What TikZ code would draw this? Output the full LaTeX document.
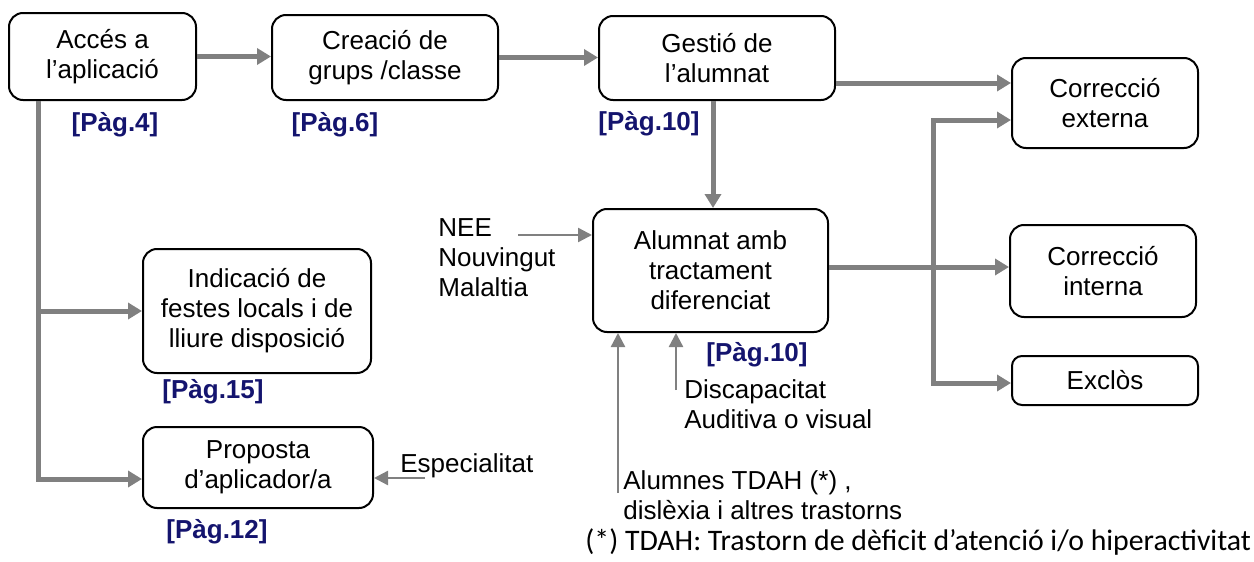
\documentclass[tikz,border=0pt]{standalone}
\usepackage{fontspec}
\setmainfont{Liberation Sans}
\newfontfamily\notefont{Carlito}
\usetikzlibrary{arrows.meta}

\definecolor{flowgray}{RGB}{128,128,128}
\definecolor{pagblue}{RGB}{20,20,110}

\begin{document}
\begin{tikzpicture}[x=0.5pt, y=-0.5pt,
    font=\fontsize{13}{15}\selectfont,
    box/.style={draw, line width=1pt, rounded corners=7pt, fill=white, align=center, inner sep=0pt},
    pag/.style={text=pagblue, font=\fontsize{13}{15}\selectfont\bfseries, inner sep=0pt},
    note/.style={align=left, inner sep=0pt},
    flow/.style={draw=flowgray, line width=2.5pt, -{Triangle[length=7pt, width=8pt]}, flowgray},
    thinflow/.style={draw=flowgray, line width=1.2pt, -{Triangle[length=7pt, width=7pt]}, flowgray}]
  \useasboundingbox (0,0) rectangle (1254,562);
  % Boxes
  \node[box, minimum width=93.5pt, minimum height=43.5pt] (acces) at (102.5,56.5) {Accés a\\l’aplicació};
  \node[box, minimum width=113pt, minimum height=42.5pt] (creacio) at (385,57.5) {Creació de\\grups /classe};
  \node[box, minimum width=118pt, minimum height=42pt] (gestio) at (717,58) {Gestió de\\l’alumnat};
  \node[box, minimum width=117.5pt, minimum height=61.5pt] (alumnat) at (710.5,270.5) {Alumnat amb\\tractament\\diferenciat};
  \node[box, minimum width=93pt, minimum height=45pt] (externa) at (1105,103) {Correcció\\externa};
  \node[box, minimum width=93pt, minimum height=46pt] (interna) at (1103,271) {Correcció\\interna};
  \node[box, rounded corners=5pt, minimum width=93pt, minimum height=24.5pt] (exclos) at (1105,380.5) {Exclòs};
  \node[box, minimum width=114pt, minimum height=62pt] (indicacio) at (257,311) {Indicació de\\festes locals i de\\lliure disposició};
  \node[box, minimum width=115pt, minimum height=40.5pt] (proposta) at (258,467.5) {Proposta\\d’aplicador/a};
  % Labels
  % Pages
  \node[pag] (pag4) at (115,125) {[Pàg.4]};
  \node[pag] (pag6) at (335,125) {[Pàg.6]};
  \node[pag] (pag10a) at (649,124) {[Pàg.10]};
  \node[pag] (pag10b) at (757,355) {[Pàg.10]};
  \node[pag] (pag15) at (213,392) {[Pàg.15]};
  \node[pag] (pag12) at (217,532) {[Pàg.12]};
  % Inputs
  \node[note, anchor=west] (nee) at (438,258) {NEE\\Nouvingut\\Malaltia};
  \node[note, anchor=west] (disc) at (684,404) {Discapacitat\\Auditiva o visual};
  \node[note, anchor=west] (tdah) at (623,495) {Alumnes TDAH (*) ,\\dislèxia i altres trastorns};
  \node[note, anchor=base west] (espec) at (400,472) {Especialitat};
  \node[inner sep=0pt, anchor=base west, font=\notefont\fontsize{14.9}{16}\selectfont] (footnote) at (585,550) {(*) TDAH: Trastorn de dèficit d’atenció i/o hiperactivitat};
  % Main flow
  \draw[flow] (acces.east) -- (acces.east -| creacio.west);
  \draw[flow] (creacio.east) -- (creacio.east -| gestio.west);
  \draw[flow] ([yshift=-12.5pt]gestio.east) -- ([yshift=-12.5pt]gestio.east -| externa.west);
  \draw[flow] ([xshift=-2pt]gestio.south) -- ([xshift=-2pt]gestio.south |- alumnat.north);
  % Branch to the left boxes
  \coordinate (trunk) at (38,310);
  \draw[flow] (acces.south -| trunk) |- ([yshift=-5.75pt]proposta.west);
  \draw[flow] (trunk |- indicacio.west) -- (indicacio.west);
  % Branch to the corrections
  \coordinate (split) at (933,267);
  \draw[flow] ([yshift=1.75pt]alumnat.east) -- (split) -- (split -| interna.west);
  \draw[flow] (split) |- ([yshift=-8.5pt]externa.west);
  \draw[flow] (split) |- ([yshift=-1.25pt]exclos.west);
  % Thin inputs
  \coordinate (neein) at (518,235);
  \coordinate (discin) at (676,390);
  \coordinate (tdahin) at (618,493);
  \coordinate (espin) at (425,478);
  \draw[thinflow] (neein) -- (neein -| alumnat.west);
  \draw[thinflow] (discin) -- (discin |- alumnat.south);
  \draw[thinflow] (tdahin) -- (tdahin |- alumnat.south);
  \draw[thinflow] (espin) -- (espin -| proposta.east);

\end{tikzpicture}
\end{document}
